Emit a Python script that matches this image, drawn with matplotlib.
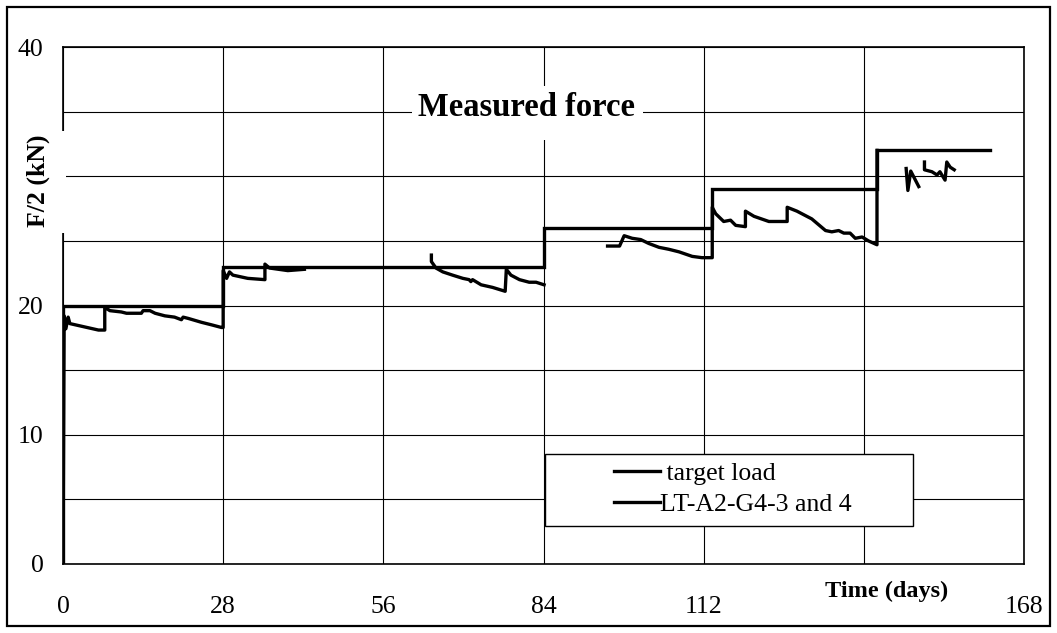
import numpy as np
import matplotlib
matplotlib.use("Agg")
import matplotlib.pyplot as plt
from matplotlib.patches import Rectangle

plt.rcParams['font.family'] = ['Liberation Serif', 'DejaVu Serif']

# ---- data ----
target_t = [0, 0, 28, 28, 84, 84, 113.5, 113.5, 142.3, 142.3, 162.1]
target_v = [0, 20, 20, 23, 23, 26, 26, 29, 29, 32, 32]

seg1_t = [0, 0.2, 0.5, 0.9, 1.2, 6.2, 7.3, 7.3, 8.2, 10.2, 11.1, 13.7, 14.0, 15.2,
          16.1, 17.8, 19.5, 20.7, 21.0, 21.9, 24.2, 26.0, 27.7, 28.0, 28.0, 28.6,
          29.1, 29.7, 32.3, 35.3, 35.3, 36.1, 39.3, 42.2]
seg1_v = [0, 19.2, 18.2, 19.1, 18.6, 18.1, 18.1, 19.85, 19.6, 19.5, 19.4, 19.4, 19.6, 19.6,
          19.4, 19.2, 19.1, 18.9, 19.1, 19.0, 18.7, 18.5, 18.3, 18.3, 22.7, 22.1,
          22.6, 22.35, 22.1, 22.0, 23.2, 22.9, 22.7, 22.8]

seg2_t = [64.4, 64.4, 65.2, 66.4, 68.1, 69.9, 71.0, 71.3, 71.6, 73.1, 75.1, 77.3,
          77.5, 78.3, 79.8, 81.5, 82.7, 84.1]
seg2_v = [23.9, 23.4, 22.9, 22.6, 22.35, 22.1, 22.0, 21.85, 22.0, 21.6, 21.4, 21.1,
          22.8, 22.35, 22.0, 21.8, 21.8, 21.6]

seg3_t = [95.2, 97.3, 98.1, 99.5, 101.0, 102.4, 104.2, 105.9, 107.7, 110.0, 111.7,
          113.5, 113.5, 114.1, 115.5, 116.7, 117.6, 119.3, 119.3, 120.8, 123.4, 126.6,
          126.6, 128.3, 130.9, 133.3, 134.4, 135.6, 136.5, 137.6, 138.5, 139.7, 140.8,
          142.3, 142.3]
seg3_v = [24.6, 24.6, 25.4, 25.2, 25.1, 24.8, 24.5, 24.35, 24.15, 23.8, 23.7,
          23.7, 27.6, 27.1, 26.5, 26.6, 26.2, 26.1, 27.3, 26.9, 26.5, 26.5,
          27.6, 27.3, 26.7, 25.8, 25.7, 25.8, 25.6, 25.6, 25.2, 25.3, 25.0,
          24.7, 32.0]

seg4a_t = [147.4, 147.7, 148.2, 149.6]
seg4a_v = [30.6, 28.9, 30.4, 29.2]

seg4b_t = [150.6, 150.6, 151.9, 152.8, 153.3, 154.2, 154.5, 155.1, 155.8]
seg4b_v = [31.1, 30.5, 30.35, 30.1, 30.35, 29.7, 31.1, 30.7, 30.5]

x_ticks = [0, 28, 56, 84, 112, 140, 168]
x_labels = ['0', '28', '56', '84', '112', '', '168']
y_ticks = [0, 5, 10, 15, 20, 25, 30, 35, 40]
y_labels = ['0', '', '10', '', '20', '', '', '', '40']

meas_t, meas_v = [], []
for st, sv in [(seg1_t, seg1_v), (seg2_t, seg2_v), (seg3_t, seg3_v),
               (seg4a_t, seg4a_v), (seg4b_t, seg4b_v)]:
    meas_t += list(st) + [np.nan]
    meas_v += list(sv) + [np.nan]

# ---- figure ----
W, H = 1057, 633
fig = plt.figure(figsize=(W / 100, H / 100), dpi=100)
L, R, T, B = 63, 1024, 47, 564
ax = fig.add_axes([L / W, 1 - B / H, (R - L) / W, (B - T) / H])

ax.set_xlim(0, 168)
ax.set_ylim(0, 40)
ax.set_xticks(x_ticks)
ax.set_xticklabels(x_labels)
ax.set_yticks(y_ticks)
ax.set_yticklabels(y_labels)
ax.tick_params(length=0, labelsize=18.5)
ax.tick_params(axis='y', pad=14)
ax.tick_params(axis='x', pad=23)
ax.grid(True, color='black', lw=0.8)
ax.set_axisbelow(True)
for s in ax.spines.values():
    s.set_linewidth(1.2)
    s.set_color('black')

ax.plot(target_t, target_v, color='black', lw=2.4, label=' target load', zorder=4,
        solid_joinstyle='miter')
ax.plot(meas_t, meas_v, color='black', lw=2.4, label='LT-A2-G4-3 and 4', zorder=4)

def px2ax(x, y):
    return ((x - L) / (R - L), (B - y) / (B - T))

# title with white background
x0, y0 = px2ax(412, 140)
x1, y1 = px2ax(643, 86)
ax.add_patch(Rectangle((x0, y0), x1 - x0, y1 - y0, transform=ax.transAxes,
                       facecolor='white', edgecolor='none', zorder=3))
tx, ty = px2ax(527, 107)
ax.text(tx, ty, 'Measured force', transform=ax.transAxes, ha='center', va='center',
        fontsize=23.5, fontweight='bold', zorder=5)

# legend
leg = ax.legend(loc='center', bbox_to_anchor=(733 / W, 1 - 489 / H),
                bbox_transform=fig.transFigure, frameon=False, fontsize=18.5,
                handlelength=1.8, handletextpad=0.0, labelspacing=0.3,
                borderpad=0)
leg.set_zorder(6)
lx0, ly0 = px2ax(545, 526)
lx1, ly1 = px2ax(913, 454)
ax.add_patch(Rectangle((lx0, ly0), lx1 - lx0, ly1 - ly0, transform=ax.transAxes,
                       facecolor='white', edgecolor='black', lw=1.0, zorder=5))

# y label with white box covering spine
fig.patches.append(Rectangle((20 / W, 1 - 233 / H), 46 / W, 102 / H,
                             transform=fig.transFigure, facecolor='white',
                             edgecolor='none', zorder=1))
fig.text(38 / W, 1 - 181 / H, 'F/2 (kN)', rotation=90, ha='center', va='center',
         fontsize=18.5, fontweight='bold', zorder=2)

# x label
fig.text(887 / W, 1 - 591 / H, 'Time (days)', ha='center', va='center',
         fontsize=17.5, fontweight='bold', zorder=2)

# outer border
fig.patches.append(Rectangle((7 / W, 1 - 626 / H), (1050 - 7) / W, (626 - 7) / H,
                             transform=fig.transFigure, facecolor='none',
                             edgecolor='black', lw=1.6, zorder=3))

fig.savefig('out.png', dpi=100)
